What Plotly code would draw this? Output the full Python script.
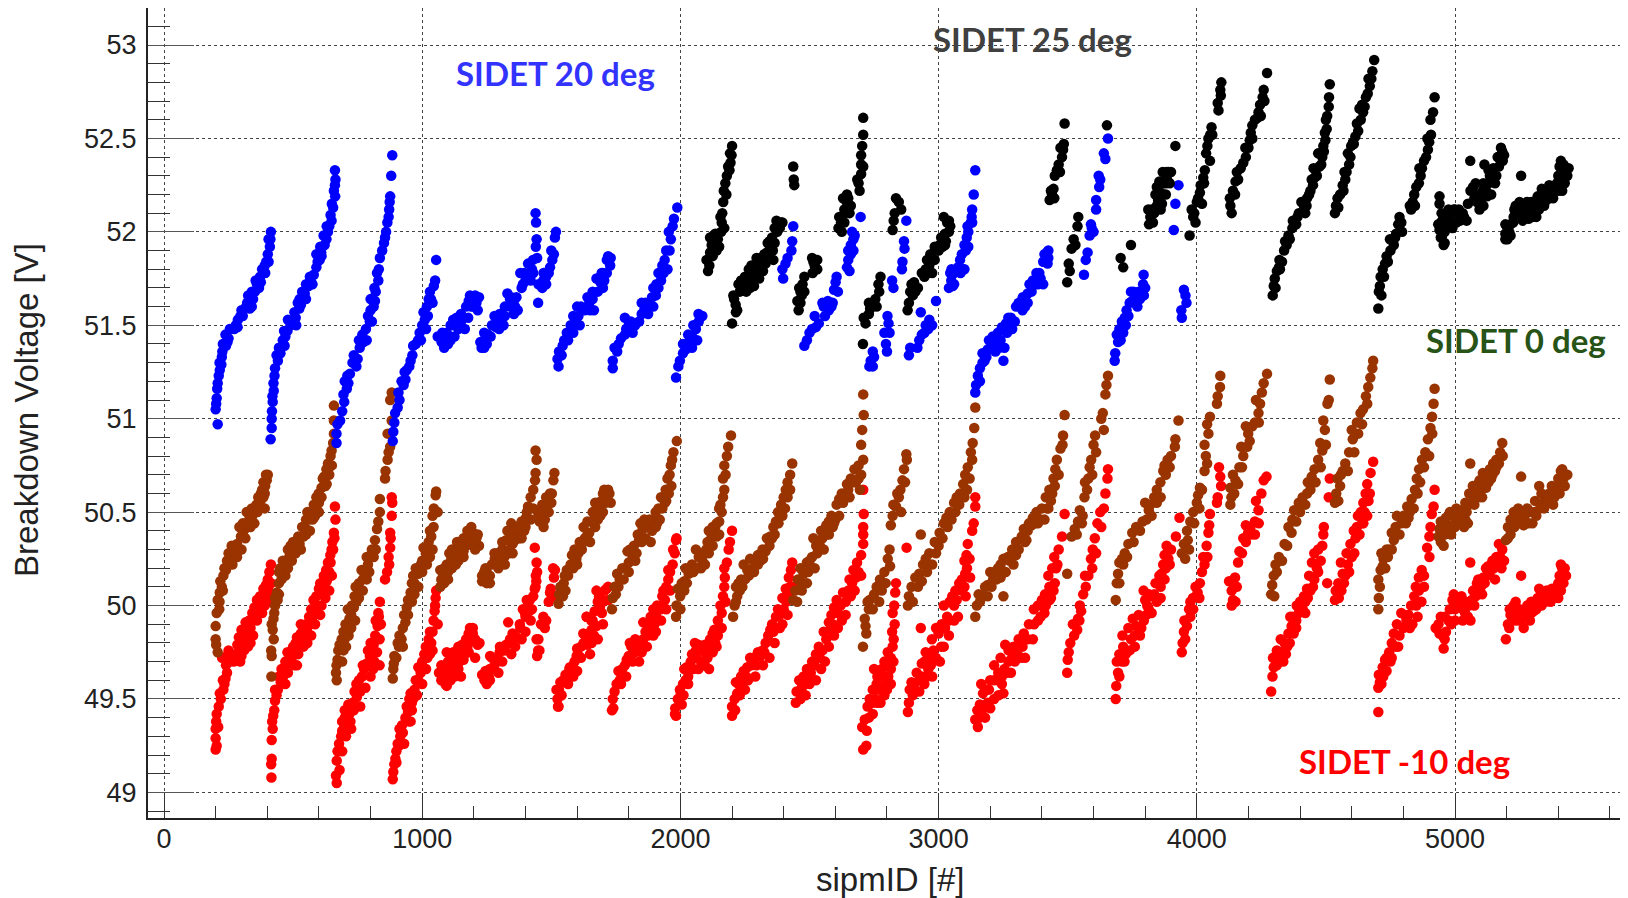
import plotly.graph_objects as go

red_points = [
(200,49.23),(204,49.25),(200,49.29),(200,49.34),(202,49.38),(204,49.42),(212,49.46),(220,49.5),(216,49.53),(230,49.55),(234,49.58),(238,49.61),(244,49.64),(240,49.68),(244,49.73),(262,49.73),(276,49.74),(293,49.75),(284,49.79),(300,49.79),(290,49.83),(313,49.85),(300,49.87),(320,49.82),(330,49.92),(316,49.91),(342,49.96),(350,49.99),(372,50.05),(360,50.03),(385,50.09),(402,50.14),(395,50.11),(408,50.18),(414,50.22),
(416,49.08),(417,49.18),(415,49.15),(417,49.28),(421,49.34),(419,49.38),(423,49.41),(427,49.44),(430,49.49),(441,49.55),(436,49.52),(452,49.59),(461,49.62),(470,49.58),(468,49.66),(482,49.69),(490,49.73),(478,49.75),(500,49.78),(510,49.8),(525,49.79),(540,49.87),(530,49.85),(550,49.9),(562,49.94),(570,49.98),(579,50.03),(590,50.05),(600,50.09),(619,50.16),(628,50.19),(635,50.23),(649,50.3),(644,50.27),(652,50.34),(658,50.39),(660,50.36),(664,50.46),(662,50.53),
(669,49.05),(666,49.09),(669,49.17),(672,49.22),(678,49.26),(686,49.3),(698,49.35),(690,49.33),(708,49.39),(718,49.42),(700,49.44),(714,49.47),(730,49.48),(747,49.51),(738,49.54),(745,49.58),(755,49.6),(767,49.62),(775,49.66),(785,49.69),(797,49.73),(790,49.76),(812,49.79),(818,49.84),(827,49.89),(820,49.92),(830,49.96),(836,50.02),
(856,50.14),(864,50.18),(870,50.26),(872,50.22),(876,50.31),(878,50.36),(876,50.39),(882,50.48),(882,50.58),(884,50.55),
(886,49.07),(888,49.11),(892,49.15),(896,49.18),(900,49.22),(905,49.26),(915,49.3),(912,49.34),(922,49.36),(945,49.43),(935,49.4),(940,49.46),(950,49.5),(955,49.53),(970,49.55),(975,49.6),(994,49.64),(985,49.67),(1000,49.7),(1008,49.74),(1014,49.78),(1025,49.82),(1030,49.86),(1044,49.92),(1048,49.97),(1050,50.0),(1054,50.08),(1052,50.04),
(1074,49.6),(1080,49.64),(1090,49.58),(1100,49.63),(1074,49.68),(1100,49.7),(1120,49.67),(1133,49.71),(1120,49.75),(1140,49.66),(1160,49.71),(1140,49.78),(1160,49.77),(1170,49.82),(1190,49.84),(1196,49.85),(1205,49.82),(1185,49.88),
(1241,49.6),(1232,49.63),(1250,49.58),(1262,49.6),(1262,49.66),(1291,49.71),(1280,49.68),(1270,49.72),(1300,49.75),(1320,49.76),(1340,49.82),(1325,49.79),(1350,49.85),(1365,49.83),(1380,49.88),(1400,49.94),(1390,49.98),(1415,49.97),(1420,49.92),(1410,50.02),(1443,49.82),(1449,49.76),(1445,49.73),
(1443,50.23),(1445,50.18),(1442,50.13),(1439,50.1),(1430,50.05),(1405,50.03),(1469,49.94),(1480,49.92),(1475,49.88),(1460,49.9),(1490,50.02),(1498,50.09),(1505,50.05),(1514,50.19),(1510,50.15),
(1528,49.46),(1524,49.5),(1530,49.55),(1548,49.59),(1535,49.59),(1555,49.63),(1570,49.66),(1590,49.7),(1607,49.73),(1600,49.77),(1625,49.8),(1640,49.79),(1656,49.87),(1632,49.84),(1637,49.94),(1660,49.92),(1668,49.97),(1696,49.96),(1680,50.02),(1685,50.05),(1706,50.08),(1720,50.1),(1700,50.02),
(1735,49.44),(1738,49.5),(1745,49.54),(1765,49.6),(1755,49.58),(1760,49.65),(1785,49.68),(1800,49.73),(1824,49.75),(1810,49.78),(1840,49.7),(1845,49.8),(1870,49.78),(1884,49.87),(1870,49.9),(1900,49.9),(1895,49.84),(1923,49.98),(1910,50.0),(1930,50.05),(1953,50.14),(1945,50.1),(1960,50.18),(1970,50.22),(1978,50.28),(1983,50.35),
(1983,49.41),(1980,49.45),(1990,49.5),(2002,49.53),(2010,49.58),(2015,49.66),(2032,49.67),(2040,49.7),(2062,49.72),(2081,49.76),(2070,49.79),(2100,49.74),(2111,49.66),(2095,49.79),(2115,49.82),(2125,49.85),(2131,49.87),(2145,49.92),(2160,49.96),(2155,50.0),(2165,50.05),(2170,50.1),(2172,50.15),(2170,50.2),(2180,50.23),(2187,50.3),(2192,50.34),(2200,50.4),
(2200,49.41),(2200,49.46),(2210,49.5),(2220,49.53),(2215,49.59),(2235,49.62),(2259,49.67),(2245,49.65),(2270,49.72),(2300,49.75),(2318,49.76),(2330,49.8),(2348,49.87),(2355,49.9),(2378,49.98),(2370,49.94),(2395,50.04),(2408,50.09),(2420,50.15),(2433,50.23),(2428,50.19),
(2447,49.48),(2450,49.54),(2460,49.6),(2477,49.62),(2490,49.66),(2510,49.7),(2536,49.78),(2525,49.74),(2555,49.86),(2575,49.91),(2585,49.95),(2605,50.03),(2595,49.99),(2630,50.07),(2655,50.14),(2670,50.19),(2684,50.23),(2700,50.27),(2708,50.33),(2708,50.38),(2708,50.42),(2710,50.49),(2708,50.62),
(2708,49.23),(2704,49.35),(2714,49.39),(2722,49.33),(2733,49.5),(2725,49.46),(2745,49.55),(2763,49.62),(2750,49.66),(2780,49.66),(2803,49.75),(2790,49.7),(2815,49.72),(2822,49.96),(2820,49.86),(2826,49.82),(2832,50.07),(2828,50.0),(2835,50.12),(2876,50.31),
(2881,49.43),(2885,49.48),(2895,49.59),(2888,49.55),(2915,49.64),(2935,49.69),(2950,49.75),(2974,49.82),(2960,49.72),(2990,49.88),(3012,49.9),(3033,49.94),(3020,50.0),(3053,50.05),(3043,50.02),(3065,50.08),(3080,50.12),(3103,50.17),(3090,50.14),(3100,50.24),(3113,50.33),(3108,50.27),(3136,50.44),(3130,50.4),(3142,50.53),(3142,50.58),(2931,49.88),
(3152,49.35),(3142,49.39),(3150,49.44),(3160,49.47),(3172,49.53),(3165,49.58),(3185,49.55),(3200,49.6),(3231,49.64),(3215,49.68),(3251,49.53),(3240,49.72),(3271,49.76),(3258,49.79),(3285,49.72),(3330,49.85),(3310,49.82),(3325,49.78),(3350,49.9),(3369,49.98),(3385,50.0),(3400,50.03),(3429,50.1),(3412,50.06),(3425,50.16),(3448,50.26),(3440,50.2),(3465,50.3),(3478,50.37),(3488,50.49),
(3498,49.64),(3504,49.75),(3500,49.71),(3537,49.87),(3525,49.84),(3540,49.93),(3547,50.0),(3552,49.97),(3567,50.16),(3570,50.1),(3597,50.3),(3590,50.25),(3605,50.36),(3626,50.5),(3615,50.44),(3640,50.52),(3646,50.6),(3656,50.73),(3654,50.68),
(3686,49.5),(3688,49.57),(3695,49.64),(3690,49.7),(3715,49.78),(3700,49.74),(3712,49.84),(3735,49.88),(3765,49.89),(3752,49.93),(3775,49.95),(3814,49.98),(3800,50.03),(3794,50.08),(3808,50.0),(3835,50.06),(3863,50.17),(3850,50.12),(3870,50.22),(3883,50.32),(3875,50.27),(3900,50.3),(3919,50.37),(3933,50.47),
(3942,49.75),(3945,49.8),(3950,49.86),(3962,49.89),(3952,49.92),(3986,49.98),(3975,49.94),(3975,50.02),(4012,50.12),(4003,50.07),(4020,50.18),(4041,50.26),(4030,50.22),(4045,50.39),(4038,50.32),(4051,50.49),(4048,50.43),
(4091,50.69),(4086,50.74),(4094,50.64),(4081,50.58),(4078,50.55),
(4140,50.03),(4135,50.08),(4125,50.13),(4148,50.15),(4160,50.23),(4165,50.29),(4180,50.36),(4199,50.39),(4190,50.43),(4208,50.42),(4225,50.45),(4239,50.51),(4229,50.56),(4250,50.6),(4259,50.67),(4270,50.69),
(4288,49.54),(4298,49.67),(4293,49.62),(4318,49.72),(4328,49.75),(4340,49.8),(4367,49.89),(4355,49.85),(4370,49.94),(4387,50.0),(4400,50.02),(4427,50.09),(4415,50.05),(4435,50.16),(4446,50.23),(4455,50.28),(4470,50.3),(4486,50.32),(4492,50.42),(4490,50.38),(4511,50.58),(4515,50.68),(4505,50.12),
(4535,50.03),(4538,50.08),(4548,50.12),(4565,50.17),(4558,50.23),(4580,50.28),(4595,50.33),(4608,50.4),(4624,50.48),(4635,50.5),(4654,50.6),(4645,50.55),(4660,50.65),(4673,50.71),(4683,50.77),
(4703,49.43),(4703,49.56),(4709,49.59),(4705,49.63),(4729,49.71),(4720,49.67),(4745,49.75),(4763,49.85),(4755,49.8),(4775,49.9),(4792,49.96),(4812,49.92),(4842,50.05),(4830,50.0),(4848,50.1),(4871,50.19),(4860,50.15),(4880,50.16),
(4921,50.62),(4917,50.53),(4910,50.49),(4901,50.37),(4905,50.42),(4901,50.26),(4892,50.31),
(4956,49.77),(4940,49.85),(4936,49.9),(4952,49.84),(4960,49.94),(4975,49.92),(4990,50.03),(5000,49.98),(5020,50.0),(5039,49.96),(5030,49.92),(5055,50.0),(5098,50.07),(5080,50.05),(5085,50.12),(5110,50.15),(5128,50.21),(5145,50.24),(5160,50.26),(5183,50.3),(5170,50.33),(5059,50.23),
(5197,49.82),(5205,49.9),(5215,49.95),(5227,50.0),(5240,49.96),(5266,49.88),(5260,49.97),(5285,49.95),(5296,49.96),(5310,50.02),(5326,50.09),(5345,50.03),(5375,50.09),(5365,50.06),(5395,50.1),(5415,50.2),(5405,50.16),(5256,50.16),
]
red_dense = [
(225,49.72),(250,49.76),(270,49.7),(285,49.72),(300,49.73),(310,49.76),(325,49.78),(305,49.82),(322,49.86),(335,49.88),(345,49.92),(355,49.96),(365,50.0),(375,49.98),(385,50.03),(395,50.06),(405,50.08),(415,50.12),
(470,49.7),(480,49.64),(495,49.72),(505,49.74),(520,49.74),(515,49.83),(530,49.9),(545,49.82),(555,49.86),(565,49.9),(575,49.94),(585,49.98),(595,50.0),(610,50.06),(605,50.12),(620,50.1),(630,50.13),(640,50.18),(645,50.23),(655,50.3),
(700,49.4),(715,49.35),(722,49.38),(690,49.38),(750,49.55),(760,49.54),(770,49.68),(800,49.8),(815,49.7),(825,49.75),(835,49.82),(840,49.9),(832,49.94),
(925,49.32),(960,49.44),(948,49.38),(965,49.5),(985,49.6),(1005,49.66),(1020,49.72),(1035,49.8),(1040,49.86),
(1080,49.6),(1095,49.57),(1110,49.6),(1125,49.62),(1085,49.66),(1105,49.66),(1125,49.68),(1145,49.7),(1115,49.72),(1135,49.74),(1150,49.75),(1165,49.74),(1175,49.78),(1155,49.79),(1170,49.81),(1180,49.85),(1195,49.81),(1215,49.79),(1222,49.8),(1196,49.88),
(1248,49.6),(1245,49.65),(1258,49.62),(1263,49.73),(1301,49.78),(1333,49.91),(1378,49.9),(1404,49.96),(1417,50.03),(1398,49.96),(1436,50.31),(1440,50.16),(1436,50.09),(1450,49.82),(1454,49.76),(1469,49.9),(1495,50.07),(1507,50.2),
(1526,49.46),(1520,49.55),(1546,49.6),(1572,49.67),(1598,49.73),(1624,49.85),(1656,49.8),(1637,49.94),(1675,49.89),(1688,49.99),(1714,50.09),(1675,50.08),(1615,49.78),(1645,49.85),(1665,49.84),(1655,49.92),(1690,50.04),
(1740,49.45),(1753,49.58),(1792,49.71),(1804,49.8),(1856,49.91),(1856,49.82),(1895,49.98),(1934,50.08),(1953,50.19),(1972,50.3),(1985,50.36),(1775,49.66),(1825,49.82),(1835,49.77),(1865,49.86),(1885,49.94),(1905,49.95),(1925,50.0),(1940,50.03),
(1979,49.42),(1998,49.55),(2024,49.67),(2056,49.8),(2020,49.6),(2030,49.62),(2050,49.66),(2045,49.74),(2060,49.76),(2080,49.7),(2095,49.68),(2105,49.72),(2120,49.78),(2135,49.8),(2145,49.84),(2150,49.88),
(2225,49.58),(2240,49.59),(2255,49.62),(2275,49.68),(2285,49.72),(2295,49.68),(2310,49.73),(2325,49.75),(2340,49.84),(2360,49.86),(2370,49.88),(2385,49.95),(2400,49.98),(2410,50.02),(2420,50.05),(2425,50.1),
(2470,49.56),(2480,49.58),(2495,49.6),(2505,49.64),(2520,49.68),(2540,49.72),(2550,49.76),(2565,49.82),(2580,49.87),(2590,49.9),(2610,49.96),(2620,50.0),(2640,50.02),(2650,50.08),(2665,50.12),(2680,50.15),(2690,50.18),
(2745,49.42),(2755,49.5),(2770,49.55),(2785,49.62),(2795,49.58),(2760,49.58),(2805,49.62),(2815,49.66),(2825,49.7),(2822,49.78),(2830,49.9),
(2905,49.58),(2925,49.6),(2935,49.62),(2945,49.7),(2960,49.66),(2970,49.68),(2980,49.76),(3000,49.85),(3010,49.78),(3025,49.88),(3040,49.92),(3060,50.0),(3070,50.03),(3090,50.08),(3100,50.1),(3110,50.2),(3120,50.25),
(3165,49.46),(3175,49.45),(3190,49.48),(3195,49.55),(3215,49.6),(3230,49.6),(3245,49.58),(3255,49.66),(3270,49.7),(3290,49.78),(3305,49.74),(3320,49.72),(3345,49.82),(3370,49.9),(3395,49.94),(3415,50.0),(3435,50.04),(3450,50.12),(3455,50.2),
(3710,49.7),(3725,49.74),(3745,49.82),(3760,49.84),(3785,49.88),(3795,49.92),(3805,49.95),(3820,50.05),(3840,50.12),(3860,50.1),(3880,50.2),(3895,50.22),
(4310,49.68),(4335,49.7),(4345,49.74),(4360,49.8),(4375,49.85),(4385,49.92),(4410,49.98),(4420,50.02),(4440,50.08),(4455,50.14),(4465,50.2),(4480,50.24),
(4560,50.08),(4570,50.12),(4585,50.22),(4600,50.26),(4615,50.36),(4620,50.42),(4640,50.44),(4650,50.5),(4665,50.56),
(4722,49.62),(4735,49.65),(4750,49.7),(4770,49.78),(4785,49.84),(4800,49.88),(4820,49.95),(4850,50.0),(4860,50.08),
(4965,49.86),(4980,49.98),(4995,50.06),(5010,50.02),(5025,50.05),(5040,50.02),(5050,49.94),(5065,50.03),(5075,50.0),(5090,50.14),(5100,50.1),(5115,50.12),(5125,50.16),(5135,50.18),(5150,50.2),(5165,50.22),(5175,50.26),
(5210,49.88),(5222,49.94),(5235,50.02),(5250,49.98),(5270,49.95),(5280,50.0),(5295,50.02),(5305,49.97),(5320,50.04),(5340,50.06),(5355,50.08),(5380,50.04),(5390,50.06),(5400,50.12),(5420,50.17),(5425,50.2),(5410,50.22),
]
red_fill = [
(210,49.35),(228,49.6),(255,49.7),(295,49.7),(335,49.8),(345,49.84),(360,49.92),(380,49.96),(390,50.0),(410,50.02),
(430,49.55),(445,49.62),(455,49.66),(505,49.68),(515,49.68),(540,49.78),(555,49.8),(570,49.84),(585,49.9),(605,49.95),(610,50.0),(625,50.04),(640,50.08),(650,50.16),
(680,49.12),(690,49.22),(705,49.3),(725,49.34),(735,49.44),(760,49.46),(780,49.56),(800,49.62),(810,49.66),(835,49.68),
(900,49.16),(910,49.25),(930,49.26),(955,49.38),(960,49.48),(980,49.52),(1000,49.58),(1015,49.66),(1030,49.74),(1040,49.76),(1060,49.9),
(1065,49.64),(1095,49.75),(1150,49.62),(1180,49.75),(1205,49.72),
(1275,49.66),(1295,49.64),(1310,49.7),(1345,49.74),(1360,49.78),(1385,49.82),(1400,49.86),(1425,49.98),
(1540,49.52),(1565,49.58),(1585,49.62),(1600,49.65),(1615,49.72),(1650,49.74),(1680,49.82),(1700,49.9),(1720,50.03),
(1770,49.58),(1790,49.62),(1815,49.7),(1850,49.75),(1875,49.84),(1905,49.86),(1925,49.92),(1945,49.98),(1960,50.08),
(2005,49.47),(2012,49.52),(2030,49.58),(2070,49.66),(2085,49.68),(2125,49.75),(2140,49.78),(2160,49.88),(2175,50.02),
(2212,49.44),(2230,49.52),(2250,49.55),(2262,49.6),(2290,49.62),(2320,49.68),(2345,49.72),(2365,49.8),(2385,49.88),(2395,49.9),(2415,49.95),(2435,50.1),
(2465,49.5),(2485,49.52),(2500,49.58),(2525,49.6),(2545,49.66),(2560,49.7),(2575,49.78),(2595,49.84),(2610,49.88),(2625,49.92),(2640,49.95),(2660,50.05),(2675,50.08),(2700,50.16),
(2720,49.25),(2730,49.4),(2745,49.48),(2762,49.48),(2775,49.48),(2790,49.52),(2800,49.55),(2815,49.58),(2808,49.68),
(2900,49.52),(2925,49.54),(2945,49.58),(2955,49.62),(2975,49.62),(2990,49.72),(3005,49.7),(3020,49.78),(3040,49.84),(3060,49.92),(3075,49.94),(3105,50.05),(3122,50.15),
(3160,49.4),(3180,49.4),(3200,49.45),(3215,49.5),(3232,49.52),(3245,49.62),(3265,49.64),(3280,49.64),(3295,49.7),(3335,49.72),(3365,49.82),(3385,49.92),(3410,49.96),(3430,50.03),(3445,50.08),(3460,50.22),
(3510,49.8),(3520,49.9),(3545,49.92),(3560,50.06),(3580,50.16),(3595,50.2),(3610,50.28),(3630,50.42),
(3700,49.62),(3720,49.7),(3740,49.76),(3760,49.78),(3780,49.84),(3825,49.96),(3815,50.06),(3845,50.02),(3860,50.04),(3855,50.16),(3875,50.14),(3890,50.25),
(3955,49.82),(3970,49.98),(3985,50.04),(3995,50.1),(4010,50.04),(4025,50.26),(4135,50.0),(4150,50.02),(4155,50.1),(4175,50.28),(4190,50.34),(4210,50.38),(4225,50.38),(4240,50.44),
(4295,49.72),(4310,49.76),(4325,49.82),(4350,49.78),(4362,49.94),(4385,49.88),(4395,49.96),(4420,49.96),(4430,50.04),(4450,50.1),(4470,50.18),
(4550,50.04),(4575,50.16),(4590,50.18),(4610,50.28),(4630,50.38),(4645,50.44),(4660,50.48),(4670,50.6),
(4715,49.58),(4735,49.72),(4755,49.72),(4780,49.78),(4805,49.95),(4825,49.88),(4835,49.9),(4855,49.94),(4870,50.02),(4880,50.1),
(4925,49.88),(4945,49.94),(4960,49.82),(4985,49.9),(5000,49.92),(5030,49.98),(5060,49.92),(5070,50.08),(5105,50.06),(5120,50.2),(5155,50.14),(5180,50.2),(5190,50.24),
(5212,49.98),(5230,49.92),(5245,49.92),(5260,49.93),(5275,49.96),(5290,49.92),(5315,49.98),(5335,50.0),(5350,50.02),(5370,50.02),(5400,50.04),(5410,50.08),(5420,50.12),(5430,50.16),
]

brown_points = [
(208,49.75),(200,49.82),(202,49.79),(200,49.89),(204,49.96),(214,49.98),(208,50.03),(216,50.07),(224,50.1),(218,50.13),(230,50.16),(234,50.2),(244,50.24),(240,50.19),(268,50.27),(283,50.26),(276,50.3),(283,50.33),(298,50.37),(313,50.41),(305,50.44),(320,50.44),(342,50.48),(330,50.46),(340,50.52),(358,50.54),(372,50.55),(375,50.6),(392,50.64),(385,50.66),(398,50.67),(402,50.7),
(416,49.62),(417,49.73),(415,49.76),(421,49.87),(417,49.9),(424,49.93),(427,49.96),(430,50.0),(437,50.07),(430,50.04),(445,50.12),(461,50.17),(450,50.2),(470,50.23),(485,50.26),(500,50.28),(490,50.32),(510,50.34),(525,50.33),(540,50.37),(520,50.37),(545,50.42),(560,50.46),(570,50.5),(555,50.5),(580,50.54),(599,50.6),(590,50.58),(610,50.63),(629,50.73),(620,50.69),(635,50.76),(645,50.8),(649,50.83),(658,50.92),(655,50.87),(658,50.99),(658,51.07),
(669,49.6),(666,49.64),(672,49.71),(668,49.68),(675,49.76),(688,49.82),(680,49.79),(695,49.86),(703,49.9),(718,49.93),(710,49.87),(725,49.95),(735,49.99),(738,50.05),(742,50.1),(755,50.12),(777,50.17),(765,50.19),(790,50.22),(797,50.26),(805,50.3),(817,50.35),(825,50.41),(830,50.45),(836,50.5),(836,50.57),
(856,50.68),(858,50.72),(866,50.78),(870,50.82),(876,50.85),(866,50.92),(876,50.92),(882,50.99),(876,51.1),(882,51.14),
(886,49.61),(888,49.66),(892,49.73),(890,49.69),(905,49.8),(912,49.84),(920,49.82),(935,49.91),(925,49.88),(930,49.95),(945,50.03),(940,49.99),(955,50.07),(970,50.12),(985,50.17),(975,50.2),(995,50.22),(1014,50.28),(1005,50.31),(1025,50.34),(1035,50.37),(1044,50.42),(1040,50.48),(1045,50.52),(1054,50.61),(1052,50.59),
(1074,50.14),(1070,50.19),(1085,50.2),(1095,50.22),(1113,50.25),(1105,50.28),(1125,50.3),(1153,50.3),(1135,50.27),(1160,50.26),(1170,50.32),(1185,50.36),(1196,50.39),(1210,50.36),(1220,50.32),(1205,50.3),
(1232,50.16),(1245,50.2),(1232,50.13),(1250,50.12),(1250,50.18),(1281,50.25),(1270,50.22),(1290,50.28),(1310,50.3),(1325,50.35),(1340,50.35),(1330,50.4),(1355,50.38),(1375,50.36),(1345,50.44),(1390,50.42),(1402,50.47),(1410,50.53),(1420,50.58),(1430,50.62),(1439,50.71),(1443,50.78),(1439,50.83),(1437,50.67),
(1455,50.45),(1470,50.42),(1479,50.5),(1465,50.54),(1480,50.58),(1495,50.6),(1502,50.6),(1500,50.55),(1512,50.71),(1508,50.67),
(1528,50.01),(1530,50.06),(1548,50.12),(1535,50.1),(1560,50.19),(1575,50.22),(1597,50.25),(1590,50.3),(1610,50.34),(1647,50.39),(1625,50.42),(1640,50.45),(1660,50.5),(1686,50.51),(1670,50.55),(1695,50.56),(1716,50.6),(1705,50.62),(1730,50.55),(1680,50.46),
(1735,49.98),(1738,50.04),(1745,50.1),(1765,50.14),(1755,50.17),(1785,50.2),(1815,50.26),(1800,50.23),(1805,50.3),(1835,50.38),(1854,50.41),(1840,50.35),(1870,50.42),(1885,50.34),(1904,50.5),(1895,50.45),(1915,50.52),(1925,50.58),(1943,50.62),(1950,50.68),(1963,50.75),(1958,50.7),(1973,50.82),(1968,50.78),(1986,50.88),
(1983,49.94),(1985,50.0),(1999,50.05),(1990,50.09),(2015,50.13),(2032,50.17),(2020,50.2),(2045,50.22),(2071,50.26),(2060,50.3),(2085,50.24),(2100,50.3),(2121,50.37),(2110,50.4),(2135,50.42),(2150,50.45),(2160,50.5),(2155,50.54),(2165,50.58),(2170,50.62),(2165,50.68),(2170,50.75),(2180,50.8),(2185,50.85),(2196,50.91),
(2204,49.94),(2210,50.0),(2220,50.05),(2215,50.1),(2235,50.14),(2259,50.19),(2245,50.22),(2270,50.25),(2300,50.27),(2318,50.3),(2335,50.36),(2348,50.37),(2360,50.42),(2378,50.5),(2370,50.45),(2390,50.54),(2408,50.62),(2400,50.58),(2415,50.66),(2425,50.7),(2433,50.76),
(2437,50.03),(2445,50.08),(2455,50.14),(2477,50.17),(2465,50.2),(2490,50.23),(2510,50.26),(2526,50.32),(2515,50.36),(2545,50.4),(2565,50.43),(2585,50.48),(2575,50.45),(2605,50.54),(2625,50.6),(2615,50.57),(2645,50.65),(2674,50.73),(2660,50.68),(2690,50.75),(2708,50.78),(2700,50.86),(2704,50.94),(2710,51.02),(2708,51.13),
(2707,49.78),(2714,49.93),(2717,49.89),(2720,49.85),(2733,50.03),(2730,49.98),(2750,50.06),(2773,50.14),(2760,50.1),(2790,50.18),(2803,50.25),(2812,50.21),(2822,50.48),(2815,50.43),(2835,50.53),(2846,50.58),(2852,50.62),(2860,50.67),(2866,50.73),(2875,50.81),(2877,50.78),
(2881,50.0),(2885,50.05),(2895,50.1),(2925,50.17),(2910,50.15),(2940,50.22),(2964,50.28),(2950,50.25),(2931,50.38),(2985,50.34),(3004,50.39),(3020,50.44),(3043,50.5),(3030,50.47),(3060,50.55),(3083,50.6),(3070,50.58),(3095,50.65),(3113,50.74),(3103,50.7),(3125,50.82),(3132,50.87),(3130,50.78),(3138,50.95),(3142,51.06),
(3142,49.94),(3148,50.0),(3172,50.05),(3160,50.02),(3190,50.11),(3211,50.14),(3200,50.18),(3251,50.05),(3230,50.2),(3251,50.25),(3240,50.22),(3268,50.26),(3300,50.27),(3285,50.3),(3330,50.41),(3322,50.37),(3345,50.4),(3379,50.5),(3365,50.47),(3400,50.52),(3429,50.62),(3415,50.58),(3445,50.68),(3458,50.78),(3452,50.73),(3472,50.84),(3482,50.91),(3480,50.86),(3488,51.02),
(3498,50.17),(3527,50.41),(3515,50.37),(3540,50.45),(3547,50.51),(3558,50.48),(3567,50.66),(3575,50.62),(3591,50.78),(3585,50.74),(3606,50.91),(3600,50.86),(3630,51.0),(3636,51.03),(3646,51.13),(3656,51.23),(3650,51.18),
(3686,50.03),(3695,50.17),(3690,50.12),(3700,50.23),(3721,50.28),(3710,50.25),(3735,50.33),(3765,50.42),(3750,50.39),(3790,50.45),(3814,50.51),(3800,50.55),(3825,50.48),(3835,50.58),(3859,50.66),(3845,50.62),(3870,50.72),(3887,50.78),(3875,50.75),(3900,50.8),(3917,50.89),(3929,50.99),(3915,50.85),
(3942,50.28),(3950,50.33),(3962,50.4),(3965,50.35),(3986,50.5),(3975,50.45),(4000,50.55),(4012,50.63),(4005,50.59),(4030,50.72),(4035,50.8),(4030,50.86),(4045,50.92),(4040,50.97),(4051,51.01),(4091,51.23),(4090,51.17),(4081,51.12),(4078,51.08),
(4134,50.58),(4130,50.63),(4150,50.67),(4140,50.7),(4165,50.74),(4180,50.8),(4172,50.85),(4199,50.92),(4190,50.96),(4215,50.96),(4239,51.03),(4229,51.1),(4245,51.08),(4259,51.19),(4252,51.14),(4272,51.24),
(4288,50.06),(4298,50.16),(4292,50.11),(4318,50.26),(4305,50.22),(4340,50.33),(4367,50.39),(4355,50.42),(4370,50.46),(4377,50.51),(4395,50.55),(4427,50.6),(4410,50.58),(4430,50.66),(4456,50.73),(4445,50.69),(4470,50.78),(4486,50.83),(4478,50.87),(4496,50.94),(4490,50.99),(4506,51.08),(4511,51.1),(4515,51.21),
(4535,50.55),(4540,50.6),(4555,50.64),(4545,50.68),(4575,50.76),(4565,50.72),(4590,50.82),(4604,50.89),(4600,50.94),(4620,50.98),(4634,51.03),(4644,51.05),(4655,51.12),(4664,51.17),(4672,51.22),(4680,51.27),(4683,51.31),
(4703,49.98),(4705,50.04),(4709,50.1),(4703,50.14),(4712,50.19),(4723,50.25),(4720,50.21),(4745,50.3),(4763,50.35),(4755,50.39),(4792,50.44),(4775,50.48),(4800,50.48),(4832,50.57),(4815,50.53),(4845,50.62),(4861,50.73),(4852,50.68),(4872,50.78),(4885,50.82),(4895,50.89),(4905,50.95),(4911,51.01),(4917,51.08),(4921,51.16),
(4956,50.32),(4940,50.41),(4936,50.37),(4945,50.45),(4980,50.5),(4965,50.47),(5000,50.47),(5029,50.51),(5015,50.44),(5040,50.46),(5040,50.55),(5055,50.6),(5069,50.64),(5085,50.62),(5108,50.71),(5095,50.67),(5125,50.7),(5148,50.76),(5135,50.73),(5160,50.78),(5183,50.87),(5175,50.82),(5059,50.76),(5090,50.58),
(5197,50.35),(5205,50.42),(5227,50.5),(5215,50.46),(5245,50.52),(5296,50.5),(5270,50.48),(5266,50.43),(5310,50.56),(5326,50.64),(5335,50.6),(5256,50.69),(5350,50.58),(5375,50.64),(5395,50.62),(5415,50.73),(5400,50.68),(5420,50.68),
]
brown_dense = [
(250,50.28),(262,50.32),(292,50.42),(305,50.38),(320,50.5),(335,50.5),(350,50.5),(365,50.58),(380,50.62),(395,50.7),(390,50.6),
(445,50.06),(455,50.14),(470,50.16),(480,50.2),(495,50.24),(510,50.28),(530,50.3),(550,50.38),(565,50.4),(580,50.47),(590,50.52),(600,50.55),(610,50.58),(625,50.64),(640,50.7),(650,50.75),
(700,49.82),(712,49.98),(728,50.0),(750,50.06),(770,50.14),(785,50.26),
(960,50.12),(965,50.16),(1000,50.24),(1020,50.29),(1030,50.4),
(1085,50.12),(1100,50.14),(1115,50.2),(1130,50.22),(1140,50.24),(1145,50.28),(1125,50.27),(1160,50.29),(1178,50.34),(1190,50.33),(1205,50.38),
(1240,50.18),(1262,50.16),(1290,50.22),(1305,50.25),(1318,50.26),(1280,50.28),(1310,50.34),(1340,50.3),(1350,50.33),(1360,50.35),(1370,50.4),(1385,50.45),(1395,50.4),(1405,50.5),(1415,50.52),
(1450,50.49),(1460,50.5),(1475,50.46),(1485,50.55),(1490,50.5),
(1540,50.06),(1552,50.16),(1565,50.16),(1580,50.27),(1600,50.22),(1618,50.3),(1630,50.36),(1650,50.34),(1655,50.45),(1670,50.42),(1690,50.48),(1710,50.55),(1720,50.62),(1700,50.5),
(1750,50.06),(1775,50.2),(1795,50.29),(1820,50.32),(1825,50.24),(1850,50.34),(1860,50.46),(1880,50.46),(1910,50.44),(1930,50.52),(1945,50.56),(1955,50.6),
(2005,50.12),(2025,50.12),(2045,50.18),(2080,50.2),(2095,50.22),(2110,50.28),(2125,50.32),(2140,50.37),(2150,50.38),
(2225,50.12),(2250,50.14),(2280,50.2),(2295,50.22),(2310,50.24),(2330,50.29),(2355,50.36),(2380,50.44),(2395,50.48),(2415,50.58),
(2470,50.12),(2495,50.18),(2505,50.2),(2530,50.28),(2550,50.36),(2565,50.38),(2590,50.42),(2600,50.46),(2630,50.55),(2650,50.62),(2670,50.66),(2690,50.68),
(3190,50.05),(3205,50.1),(3225,50.14),(3240,50.15),(3275,50.24),(3300,50.34),(3340,50.35),(3360,50.43),(3385,50.44),(3410,50.46),(3425,50.52),(3440,50.6),
(4715,50.28),(4740,50.26),(4770,50.42),(4820,50.47),(4840,50.52),
(4945,50.34),(4960,50.38),(4975,50.42),(4990,50.43),(5005,50.52),(5020,50.5),(5035,50.42),(5045,50.5),(5050,50.44),(5070,50.56),(5080,50.6),(5100,50.62),(5115,50.64),(5130,50.66),(5145,50.7),(5160,50.74),
(5220,50.42),(5240,50.48),(5255,50.5),(5280,50.52),(5300,50.44),(5315,50.48),(5340,50.55),(5360,50.56),(5385,50.58),(5410,50.65),(5425,50.7),(5410,50.72),
]
brown_fill = [
(215,50.02),(228,50.08),(252,50.22),(265,50.22),(290,50.3),(300,50.3),(315,50.36),(335,50.42),(350,50.44),(362,50.5),(385,50.58),(390,50.52),
(425,49.82),(440,50.03),(445,50.18),(460,50.24),(480,50.3),(500,50.34),(520,50.3),(535,50.42),(550,50.46),(575,50.46),(585,50.48),(600,50.5),(615,50.68),(630,50.65),(640,50.74),
(690,49.7),(695,49.76),(705,49.78),(715,49.84),(725,49.88),(740,49.92),(745,50.02),(755,50.04),(770,50.08),(785,50.14),(795,50.18),(812,50.26),(820,50.3),
(900,49.72),(910,49.78),(925,49.78),(945,49.95),(960,50.02),(970,50.06),(985,50.1),(1000,50.18),(1018,50.22),(1030,50.26),(1040,50.3),(1060,50.5),
(1070,50.1),(1082,50.16),(1100,50.18),(1115,50.3),(1135,50.34),(1160,50.36),(1175,50.4),(1190,50.42),(1215,50.38),
(1262,50.12),(1295,50.2),(1320,50.22),(1335,50.28),(1350,50.28),(1365,50.42),(1385,50.36),(1400,50.42),(1420,50.46),(1430,50.52),
(1545,50.05),(1555,50.08),(1585,50.2),(1605,50.28),(1625,50.34),(1640,50.38),(1665,50.46),(1680,50.55),(1700,50.6),(1725,50.6),
(1760,50.1),(1780,50.14),(1800,50.18),(1830,50.28),(1845,50.44),(1865,50.36),(1890,50.4),(1905,50.42),(1920,50.46),(1940,50.55),(1965,50.64),
(2000,49.98),(2015,50.08),(2035,50.2),(2050,50.18),(2065,50.2),(2090,50.28),(2105,50.34),(2125,50.42),(2140,50.44),(2150,50.52),(2175,50.7),
(2215,50.02),(2230,50.08),(2240,50.1),(2265,50.16),(2285,50.18),(2300,50.22),(2320,50.25),(2345,50.32),(2365,50.38),(2385,50.48),(2405,50.52),(2425,50.62),
(2452,50.02),(2470,50.08),(2490,50.12),(2500,50.24),(2520,50.2),(2540,50.32),(2555,50.3),(2575,50.38),(2595,50.44),(2615,50.48),(2635,50.58),(2655,50.58),(2680,50.66),(2700,50.7),(2695,50.62),
(2725,50.02),(2745,49.98),(2770,50.02),(2780,50.08),(2795,50.12),(2810,50.3),(2825,50.54),(2840,50.6),(2855,50.5),(2870,50.66),
(2900,50.02),(2920,50.1),(2935,50.13),(2955,50.18),(2975,50.22),(2990,50.28),(3000,50.32),(3015,50.36),(3035,50.42),(3050,50.46),(3065,50.5),(3080,50.54),(3100,50.58),(3110,50.62),(3120,50.68),
(3155,50.06),(3180,50.1),(3215,50.18),(3260,50.18),(3290,50.22),(3310,50.3),(3335,50.34),(3350,50.44),(3375,50.44),(3395,50.46),(3420,50.52),(3435,50.56),(3450,50.64),(3465,50.7),
(3535,50.38),(3555,50.44),(3565,50.58),(3580,50.68),(3595,50.7),(3610,50.82),(3640,50.94),(3700,50.12),(3715,50.22),(3730,50.26),(3755,50.34),(3780,50.4),(3805,50.46),(3820,50.54),(3845,50.55),(3860,50.58),(3880,50.7),(3895,50.74),
(3955,50.25),(3970,50.3),(3990,50.44),(4010,50.52),(4020,50.62),(4040,50.76),(4130,50.54),(4145,50.6),(4160,50.65),(4175,50.74),(4195,50.85),(4205,50.88),(4225,50.98),(4240,50.98),
(4300,50.05),(4310,50.18),(4330,50.24),(4350,50.32),(4385,50.45),(4400,50.5),(4420,50.54),(4440,50.62),(4460,50.66),(4480,50.74),(4500,50.86),
(4548,50.56),(4558,50.7),(4585,50.72),(4610,50.82),(4625,50.92),(4640,50.97),(4660,51.08),
(4730,50.2),(4735,50.3),(4755,50.3),(4785,50.38),(4810,50.44),(4825,50.5),(4855,50.6),(4865,50.66),(4880,50.74),(4900,50.8),(4912,50.92),
(4950,50.4),(4955,50.44),(4985,50.38),(5000,50.42),(5010,50.5),(5025,50.45),(5055,50.54),(5075,50.54),(5090,50.65),(5105,50.58),(5120,50.63),(5140,50.68),(5155,50.72),(5170,50.76),(5185,50.8),
(5205,50.36),(5215,50.38),(5230,50.42),(5250,50.44),(5265,50.5),(5285,50.44),(5310,50.5),(5330,50.52),(5345,50.52),(5365,50.6),(5380,50.54),(5405,50.6),(5425,50.64),(5435,50.7),
]

blue_points = [
(208,50.97),(200,51.05),(202,51.08),(204,51.11),(206,51.16),(208,51.19),(212,51.23),(216,51.26),(222,51.29),(224,51.33),(226,51.36),(240,51.39),(246,51.41),(250,51.43),(278,51.5),(286,51.53),(296,51.55),(300,51.58),(318,51.6),(322,51.62),(332,51.59),(340,51.6),(326,51.66),(352,51.68),(360,51.72),(368,51.7),(366,51.74),(372,51.76),(390,51.82),(396,51.84),(402,51.88),(410,51.92),(412,51.96),(414,52.0),
(413,50.89),(417,50.95),(417,51.0),(418,51.04),(421,51.09),(420,51.12),(425,51.15),(424,51.19),(428,51.23),(430,51.27),(441,51.31),(436,51.34),(451,51.35),(467,51.39),(460,51.42),(470,51.44),(465,51.47),(490,51.5),(500,51.52),(510,51.54),(505,51.57),(524,51.59),(530,51.61),(540,51.64),(525,51.64),(535,51.68),(545,51.67),(560,51.71),(570,51.73),(565,51.76),(580,51.77),(590,51.81),(603,51.85),(595,51.84),(609,51.89),(610,51.87),(622,51.93),(629,51.96),(635,52.0),(640,52.03),(649,52.06),(645,52.09),(655,52.13),(650,52.15),(663,52.19),(658,52.22),(664,52.28),(662,52.25),(662,52.33),
(668,50.87),(668,50.92),(682,50.99),(672,50.97),(690,51.04),(698,51.09),(695,51.13),(708,51.16),(714,51.19),(710,51.23),(741,51.31),(735,51.34),(745,51.28),(758,51.38),(773,51.41),(768,51.45),(782,51.48),(797,51.52),(790,51.55),(800,51.58),(817,51.63),(812,51.6),(820,51.68),(830,51.74),(825,51.78),(832,51.8),(836,51.86),(845,51.9),(856,51.97),(852,51.94),(860,52.0),(865,52.05),(870,52.08),(872,52.12),(876,52.19),(874,52.16),(880,52.3),(884,52.41),
(886,50.88),(888,50.93),(892,50.98),(895,51.03),(905,51.06),(912,51.1),(908,51.14),(935,51.21),(928,51.18),(932,51.25),(955,51.31),(950,51.28),(962,51.34),(984,51.42),(975,51.4),(990,51.46),(1000,51.5),(1010,51.53),(1005,51.57),(1018,51.6),(1034,51.64),(1030,51.68),(1050,51.74),(1045,51.71),(1054,51.85),
(1089,51.43),(1075,51.41),(1100,51.4),(1095,51.46),(1110,51.5),(1133,51.54),(1120,51.53),(1150,51.52),(1160,51.54),(1180,51.63),(1196,51.64),(1210,51.62),(1190,51.6),
(1241,51.42),(1225,51.41),(1250,51.4),(1240,51.46),(1270,51.5),(1291,51.53),(1280,51.55),(1305,51.52),(1320,51.55),(1354,51.63),(1340,51.6),(1330,51.67),(1345,51.65),(1390,51.72),(1400,51.74),(1385,51.7),(1410,51.77),(1429,51.85),(1425,51.8),(1443,51.96),(1440,51.92),(1441,52.05),(1439,52.1),(1449,51.62),(1469,51.74),(1450,51.72),(1480,51.76),
(1504,51.85),(1495,51.81),(1510,51.88),(1514,51.97),(1518,52.0),
(1528,51.28),(1524,51.32),(1530,51.36),(1544,51.39),(1550,51.42),(1560,51.46),(1591,51.51),(1575,51.5),(1605,51.55),(1647,51.62),(1630,51.58),(1640,51.65),(1690,51.73),(1675,51.75),(1700,51.7),(1720,51.87),(1728,51.82),
(1738,51.27),(1738,51.31),(1745,51.38),(1761,51.4),(1770,51.43),(1790,51.48),(1808,51.52),(1825,51.5),(1840,51.52),(1864,51.62),(1880,51.6),(1890,51.65),(1907,51.72),(1925,51.74),(1939,51.85),(1930,51.82),(1963,51.96),(1958,51.9),(1975,52.07),(1970,52.03),(1988,52.13),
(1983,51.22),(1998,51.31),(1992,51.28),(2010,51.4),(2032,51.41),(2020,51.37),(2045,51.44),(2071,51.52),(2060,51.48),(2070,51.56),
(2490,51.42),(2480,51.39),(2500,51.46),(2536,51.51),(2525,51.49),(2555,51.6),(2571,51.63),(2585,51.6),(2601,51.73),(2595,51.69),(2650,51.85),(2645,51.81),(2660,51.88),(2670,51.96),(2660,51.93),(2698,52.08),
(2398,51.75),(2407,51.83),(2395,51.8),(2415,51.86),(2433,51.95),(2430,51.9),(2437,52.03),
(2737,51.31),(2732,51.28),(2745,51.36),(2796,51.4),(2800,51.36),(2806,51.51),(2802,51.55),(2820,51.74),(2825,51.7),(2860,51.84),(2858,51.8),(2866,51.95),(2868,51.91),(2875,52.06),(2885,51.34),(2925,51.42),(2918,51.38),(2945,51.46),(2964,51.53),(2950,51.5),(2931,51.57),(2990,51.63),(3049,51.74),(3040,51.7),(3055,51.71),(3083,51.85),(3075,51.81),(3090,51.88),(3109,51.97),(3100,51.93),(3115,52.0),(3128,52.08),(3130,52.12),(3136,52.2),(3142,52.33),
(3142,51.14),(3145,51.18),(3152,51.23),(3160,51.27),(3178,51.31),(3170,51.35),(3190,51.37),(3251,51.31),(3221,51.4),(3210,51.44),(3240,51.42),(3261,51.51),(3245,51.49),(3280,51.54),(3326,51.65),(3310,51.62),(3345,51.67),(3379,51.78),(3365,51.74),(3395,51.75),(3419,51.89),(3410,51.84),(3422,51.83),
(3563,51.77),(3577,51.89),(3570,51.85),(3593,52.02),(3585,51.98),(3610,52.17),(3626,52.28),(3622,52.24),(3646,52.39),(3656,52.5),
(3682,51.31),(3684,51.35),(3695,51.41),(3690,51.45),(3700,51.48),(3721,51.54),(3710,51.52),(3728,51.58),(3765,51.66),(3750,51.63),(3780,51.64),(3794,51.77),(3792,51.72),
(3942,51.54),(3940,51.58),(3956,51.66),(3950,51.69),(3960,51.62),(3929,52.25),(3917,52.15),(3911,52.01),
]
blue_dense = [
(1085,51.38),(1105,51.44),(1125,51.5),(1140,51.48),(1150,51.56),(1170,51.6),(1200,51.6),(1205,51.66),(1185,51.66),(1230,51.38),(1240,51.38),(1255,51.45),(1285,51.49),(1300,51.56),(1315,51.5),(1340,51.64),(1360,51.6),(1370,51.58),(1395,51.78),(1420,51.74),(1430,51.78),(1470,51.78),(1490,51.78),(1500,51.9),(1585,51.55),(1610,51.5),(1650,51.58),(1660,51.64),(1665,51.58),(1705,51.74),(1695,51.78),(1715,51.85),(1730,51.86),(1785,51.54),(1800,51.5),(1860,51.58),(1875,51.56),(1905,51.66),(1915,51.7),(1935,51.78),(1950,51.8),(2045,51.38),(2055,51.42),
(2550,51.62),(2575,51.58),(2590,51.62),(2605,51.76),(2655,51.79),(2670,51.9),(2675,51.98),(3220,51.36),(3235,51.38),(3255,51.38),(3265,51.46),(3275,51.48),(3295,51.52),(3335,51.6),(3345,51.62),(3375,51.72),(3390,51.78),(3405,51.72),(3410,51.88),(3425,51.9),(2890,51.38),(2935,51.45),(2960,51.48),(2975,51.5),(3045,51.78),(3060,51.72),(3085,51.78),(3095,51.8),(3105,51.9),(3112,52.03),
(3775,51.68),(3760,51.62),(3745,51.68),(3735,51.55),(3715,51.46),
]
blue_fill = [
(215,51.3),(228,51.4),(238,51.45),(255,51.48),(272,51.48),(285,51.49),(305,51.55),(330,51.62),(345,51.64),(340,51.68),(355,51.74),(375,51.73),(380,51.8),(392,51.78),(405,51.84),(405,51.96),
(445,51.38),(478,51.47),(480,51.53),(512,51.5),(518,51.62),(550,51.64),(550,51.72),(575,51.72),(590,51.88),(605,51.92),(618,51.98),(630,52.03),
(700,51.2),(720,51.24),(730,51.3),(750,51.32),(755,51.42),(785,51.42),(805,51.52),(800,51.64),(815,51.7),
(920,51.2),(940,51.26),(965,51.39),(995,51.42),(1015,51.48),(1022,51.55),(1025,51.64),(1040,51.62),
(1060,51.44),(1078,51.46),(1110,51.42),(1125,51.44),(1165,51.48),(1178,51.54),(1215,51.58),(1220,51.65),
(1265,51.44),(1298,51.48),(1320,51.6),(1355,51.56),(1365,51.65),(1380,51.78),(1410,51.83),(1445,51.86),(1465,51.7),(1480,51.72),
(1540,51.34),(1565,51.42),(1585,51.46),(1600,51.6),(1615,51.6),(1660,51.68),(1680,51.68),(1700,51.78),(1715,51.78),
(1755,51.36),(1785,51.45),(1815,51.46),(1850,51.56),(1850,51.62),(1895,51.6),(1895,51.7),(1915,51.78),(1945,51.9),(1955,52.0),
(2010,51.35),(2030,51.45),(2050,51.5),(2085,51.55),(2065,51.42),
(2510,51.48),(2520,51.55),(2560,51.55),(2610,51.68),(2650,51.9),(2665,52.0),
(2745,51.28),(2750,51.33),(2790,51.46),(2810,51.46),(3050,51.8),(3060,51.78),(3100,51.8),(3115,51.92),(3125,52.05),(3130,52.05),
(3160,51.2),(3170,51.3),(3185,51.33),(3195,51.42),(3205,51.4),(3230,51.46),(3270,51.54),(3285,51.48),(3300,51.6),(3325,51.58),(3352,51.72),(3360,51.68),(3385,51.72),(3405,51.84),(3425,51.86),
(3590,52.04),(3600,52.0),(3610,52.12),(3620,52.3),(3640,52.42),
(3705,51.42),(3715,51.5),(3725,51.5),(3740,51.62),(3755,51.68),(3770,51.6),(3795,51.66),(3800,51.7),
]

black_points = [
(2200,51.51),(2214,51.61),(2208,51.64),(2220,51.58),(2230,51.68),(2249,51.72),(2240,51.7),(2262,51.74),(2280,51.76),(2299,51.81),(2290,51.79),(2315,51.83),(2330,51.83),(2348,51.92),(2335,51.89),(2358,51.9),(2378,52.05),(2365,52.02),(2385,52.02),
(2101,51.85),(2107,51.79),(2112,51.82),(2121,51.93),(2115,51.89),(2130,51.95),(2140,51.9),(2135,51.99),(2160,52.05),(2158,52.0),(2166,52.16),(2170,52.02),(2174,52.26),(2168,52.22),(2180,52.3),(2194,52.37),(2190,52.33),(2200,52.46),(2198,52.41),
(2437,52.35),(2439,52.28),(2441,52.25),
(2453,51.63),(2458,51.58),(2473,51.72),(2465,51.68),(2480,51.76),(2520,51.82),(2512,51.78),(2530,51.85),
(2622,52.05),(2612,52.02),(2625,52.0),(2644,52.16),(2630,52.18),(2650,52.12),(2690,52.26),(2694,52.22),(2708,52.35),(2700,52.31),(2704,52.46),(2700,52.41),(2708,52.52),(2708,52.61),
(2707,51.4),(2717,51.51),(2710,51.54),(2747,51.61),(2735,51.59),(2760,51.6),(2767,51.72),(2770,51.68),
(2885,51.62),(2880,51.58),(2905,51.73),(2890,51.68),(2920,51.7),(2964,51.82),(2950,51.8),(2975,51.85),(2945,51.76),(3004,51.93),(2990,51.9),(3015,51.92),(3033,52.05),(3025,51.99),
(2826,52.06),(2822,52.01),(2830,52.1),(2846,52.16),(2835,52.18),(2855,52.12),
(3439,52.2),(3430,52.17),(3445,52.23),(3458,52.33),(3450,52.3),(3465,52.36),(3482,52.44),(3478,52.4),(3488,52.58),
(3498,51.73),(3504,51.83),(3508,51.79),(3523,51.96),(3530,51.93),(3515,51.91),(3541,52.08),(3538,52.03),(3652,52.57),
(3745,51.93),(3705,51.86),(3715,51.81),
(3820,52.08),(3812,52.12),(3830,52.05),(3859,52.21),(3850,52.17),(3865,52.15),(3870,52.26),(3883,52.32),(3895,52.26),(3875,52.27),(3917,52.46),
(3972,51.98),(3986,52.08),(3995,52.05),(3980,52.12),(4012,52.21),(4005,52.18),(4020,52.15),(4031,52.33),(4025,52.29),(4051,52.38),(4041,52.46),(4036,52.42),(4057,52.56),(4052,52.52),(4081,52.69),(4084,52.65),(4095,52.8),(4091,52.76),(4093,52.73),
(4130,52.14),(4128,52.18),(4140,52.22),(4160,52.28),(4155,52.32),(4190,52.4),(4180,52.37),(4188,52.45),(4209,52.53),(4205,52.49),(4215,52.57),(4239,52.64),(4235,52.61),(4245,52.68),(4259,52.76),(4255,52.72),(4272,52.85),
(4294,51.66),(4298,51.71),(4302,51.75),(4318,51.81),(4310,51.79),(4320,51.85),(4348,51.93),(4338,51.9),(4360,51.96),(4381,52.05),(4370,52.02),(4390,52.08),(4427,52.18),(4415,52.14),(4420,52.1),(4440,52.22),(4456,52.29),(4450,52.25),(4460,52.33),(4486,52.4),(4482,52.36),(4496,52.53),(4490,52.46),(4498,52.49),(4511,52.67),(4505,52.62),(4515,52.79),
(4539,52.14),(4535,52.1),(4545,52.18),(4575,52.28),(4565,52.25),(4568,52.22),(4580,52.32),(4595,52.4),(4590,52.36),(4614,52.51),(4608,52.47),(4625,52.54),(4644,52.64),(4635,52.6),(4650,52.67),(4670,52.78),(4662,52.74),(4680,52.86),(4676,52.82),(4687,52.92),
(4703,51.59),(4709,51.71),(4705,51.68),(4712,51.76),(4729,51.83),(4720,51.8),(4735,51.87),(4763,51.93),(4750,51.9),(4768,51.97),(4792,52.05),(4785,52.08),(4836,52.16),(4830,52.12),(4842,52.2),(4867,52.3),(4860,52.26),(4872,52.34),(4895,52.44),(4888,52.4),(4900,52.48),(4907,52.52),(4915,52.64),(4921,52.72),
(4940,52.01),(4956,51.93),(4945,51.97),(4935,52.04),(4960,52.0),(4985,52.05),(5009,52.1),(4995,52.12),(5020,52.06),(5030,52.1),(4940,52.19),(4975,52.12),(4940,52.15),(5108,52.22),(5090,52.2),(5075,52.18),(5130,52.26),(5148,52.34),(5135,52.3),(5125,52.19),(5160,52.3),(5183,52.43),(5175,52.39),(5059,52.38),(5114,52.36),(5100,52.16),
(5203,51.96),(5195,51.99),(5210,52.0),(5227,52.08),(5215,52.04),(5245,52.1),(5296,52.12),(5270,52.08),(5285,52.07),(5310,52.15),(5336,52.23),(5320,52.19),(5375,52.2),(5355,52.17),(5390,52.23),(5415,52.33),(5405,52.29),(5425,52.3),(5256,52.3),
]
black_dense = [
(2205,51.66),(2215,51.57),(2255,51.68),(2270,51.7),(2285,51.71),(2305,51.75),(2320,51.79),(2338,51.94),(2345,51.88),(2360,51.85),(2372,52.06),(2390,52.05),(2115,51.97),(2125,51.87),(2128,51.98),(2145,51.96),(2150,51.92),
(2625,52.08),(2635,52.12),(2645,52.2),(2655,52.1),(2470,51.66),(2475,51.68),(2510,51.86),(2525,51.8),
(2730,51.62),(2755,51.64),(2730,51.56),(2775,51.76),(2895,51.72),(2910,51.68),(2955,51.85),(2968,51.88),(2975,51.78),(2985,51.85),(3010,51.97),(3040,52.0),(3028,51.95),(3020,52.08),(3040,52.06),
(3815,52.04),(3825,52.12),(3845,52.24),(3855,52.27),(3880,52.26),(3885,52.28),(3890,52.32),(3860,52.12),
(4950,52.06),(4960,52.04),(4975,52.06),(4990,52.02),(4950,51.98),(4955,52.0),(5005,52.05),(5015,52.12),(5035,52.08),(5045,52.06),(5050,52.15),(5080,52.26),(5095,52.12),(5110,52.14),(5120,52.22),(5140,52.2),(5155,52.26),(5170,52.35),(5185,52.38),(5190,52.41),(5178,52.45),
(5195,51.96),(5200,52.03),(5215,51.98),(5235,52.14),(5255,52.12),(5265,52.1),(5280,52.16),(5300,52.08),(5315,52.08),(5325,52.12),(5340,52.18),(5350,52.22),(5365,52.25),(5380,52.18),(5395,52.26),(5410,52.27),(5420,52.36),(5430,52.33),(5405,52.35),(5435,52.3),(5425,52.26),
]
black_fill = [
(4305,51.7),(4322,51.8),(4330,51.84),(4342,51.95),(4355,51.98),(4372,52.06),(4385,52.04),(4395,52.1),(4405,52.16),(4425,52.14),(4435,52.2),(4445,52.28),(4452,52.34),(4465,52.3),(4475,52.35),(4470,52.42),(4492,52.43),(4503,52.55),(4500,52.6),(4512,52.72),
(4548,52.13),(4555,52.2),(4572,52.32),(4585,52.42),(4598,52.46),(4605,52.48),(4620,52.58),(4630,52.66),(4640,52.68),(4655,52.72),(4665,52.82),
(4715,51.66),(4725,51.76),(4740,51.84),(4748,51.96),(4772,51.99),(4780,52.04),(4795,52.0),(4825,52.14),(4845,52.14),(4850,52.24),(4862,52.34),(4880,52.38),(4893,52.5),(4905,52.6),
(3435,52.22),(3448,52.18),(3470,52.32),(3472,52.45),(3485,52.47),
(4135,52.1),(4148,52.2),(4150,52.27),(4170,52.34),(4200,52.45),(4215,52.5),(4225,52.6),(4248,52.62),(4262,52.7),
(3990,52.1),(4000,52.16),(4015,52.25),(4028,52.26),(4045,52.5),(4060,52.52),
(3835,52.1),(3840,52.2),(3845,52.14),(3870,52.2),(3880,52.2),(3900,52.32),(3868,52.32),
(2155,52.08),(2162,52.1),(2178,52.2),(2185,52.35),(2192,52.42),
(2225,51.72),(2235,51.74),(2250,51.76),(2265,51.8),(2275,51.82),(2295,51.86),(2310,51.86),(2325,51.88),(2345,51.95),(2355,51.97),(2365,51.94),(2375,52.0),(2395,52.05),
(2460,51.7),(2480,51.68),(2465,51.62),(2515,51.84),(2530,51.8),
(2615,52.08),(2635,52.05),(2650,52.18),(2660,52.14),(2685,52.28),(2700,52.36),
(2900,51.66),(2935,51.78),(2960,51.78),(2985,51.92),(3000,51.9),(3025,51.93),(3045,52.03),
(4960,51.94),(4948,52.1),(4965,52.1),(4990,52.1),(5000,52.12),(5060,52.22),(5070,52.24),(5085,52.16),(5110,52.26),(5130,52.33),(5150,52.3),(5165,52.4),(5195,52.04),(5225,52.05),(5230,52.12),(5250,52.16),(5262,52.06),(5275,52.12),(5295,52.16),(5335,52.14),(5345,52.14),(5360,52.2),(5400,52.22),(5400,52.3),(5415,52.22),(5440,52.34),(5425,52.34),(5410,52.38),
]

x_ticks = [0, 1000, 2000, 3000, 4000, 5000]
y_ticks = [49, 49.5, 50, 50.5, 51, 51.5, 52, 52.5, 53]
x_title = "sipmID [#]"
y_title = "Breakdown Voltage [V]"
series = [
    ("SIDET -10 deg", red_points + red_dense + red_fill, "#ff0000"),
    ("SIDET 0 deg", brown_points + brown_dense + brown_fill, "#993300"),
    ("SIDET 20 deg", blue_points + blue_dense + blue_fill, "#0000ff"),
    ("SIDET 25 deg", black_points + black_dense + black_fill, "#000000"),
]
labels = [
    ("SIDET 20 deg", 1515, 52.85, "#3333ff"),
    ("SIDET 25 deg", 3365, 53.03, "#404040"),
    ("SIDET 0 deg", 5238, 51.42, "#275317"),
    ("SIDET -10 deg", 4803, 49.17, "#ff0000"),
]

fig = go.Figure()
for name, pts, color in series:
    fig.add_trace(go.Scatter(x=[p[0] for p in pts], y=[p[1] for p in pts], mode="markers", name=name,
                             marker=dict(size=10.5, color=color, line=dict(width=0))))

for text, x, y, color in labels:
    fig.add_annotation(x=x, y=y, text=text, showarrow=False, xanchor="center", yanchor="middle",
                       font=dict(family="Lato", size=33, color=color, weight="bold"))

fig.add_annotation(xref="paper", yref="paper", x=(890 - 148) / 1480, y=(818 - 879) / 810, text=x_title,
                   xanchor="center", yanchor="middle", showarrow=False,
                   font=dict(family="Liberation Sans", size=33, color="#222222"))
fig.add_annotation(xref="paper", yref="paper", x=(26 - 148) / 1480, y=(818 - 410) / 810, text=y_title,
                   xanchor="center", yanchor="middle", textangle=-90, showarrow=False,
                   font=dict(family="Liberation Sans", size=33, color="#222222"))

fig.update_layout(
    width=1620, height=890, showlegend=False, plot_bgcolor="white", paper_bgcolor="white",
    margin=dict(l=140, r=0, t=0, b=80, autoexpand=False),
    font=dict(family="Liberation Sans", color="#222222"),
    xaxis=dict(range=[-62, 5670], tickvals=x_ticks, ticks="inside", ticklen=25, tickwidth=1, tickcolor="#333333",
               showgrid=True, gridcolor="#444444", griddash="dot", gridwidth=1, zeroline=False,
               showline=True, linecolor="#222222", linewidth=2, mirror=True,
               tickfont=dict(size=27, color="#222222"), ticklabelstandoff=-4,
               minor=dict(dtick=200, tick0=0, ticks="inside", ticklen=12, tickcolor="#333333", tickwidth=1, showgrid=False)),
    yaxis=dict(range=[48.863, 53.198], tickvals=y_ticks, ticks="inside", ticklen=46, tickwidth=1, tickcolor="#555555",
               showgrid=True, gridcolor="#444444", griddash="dot", gridwidth=1, zeroline=False,
               showline=True, linecolor="#222222", linewidth=2,
               tickfont=dict(size=27, color="#222222"), ticklabelstandoff=4,
               minor=dict(dtick=0.1, tick0=49, ticks="inside", ticklen=22, tickcolor="#333333", tickwidth=1, showgrid=False)),
)
fig.write_html("out.html")
